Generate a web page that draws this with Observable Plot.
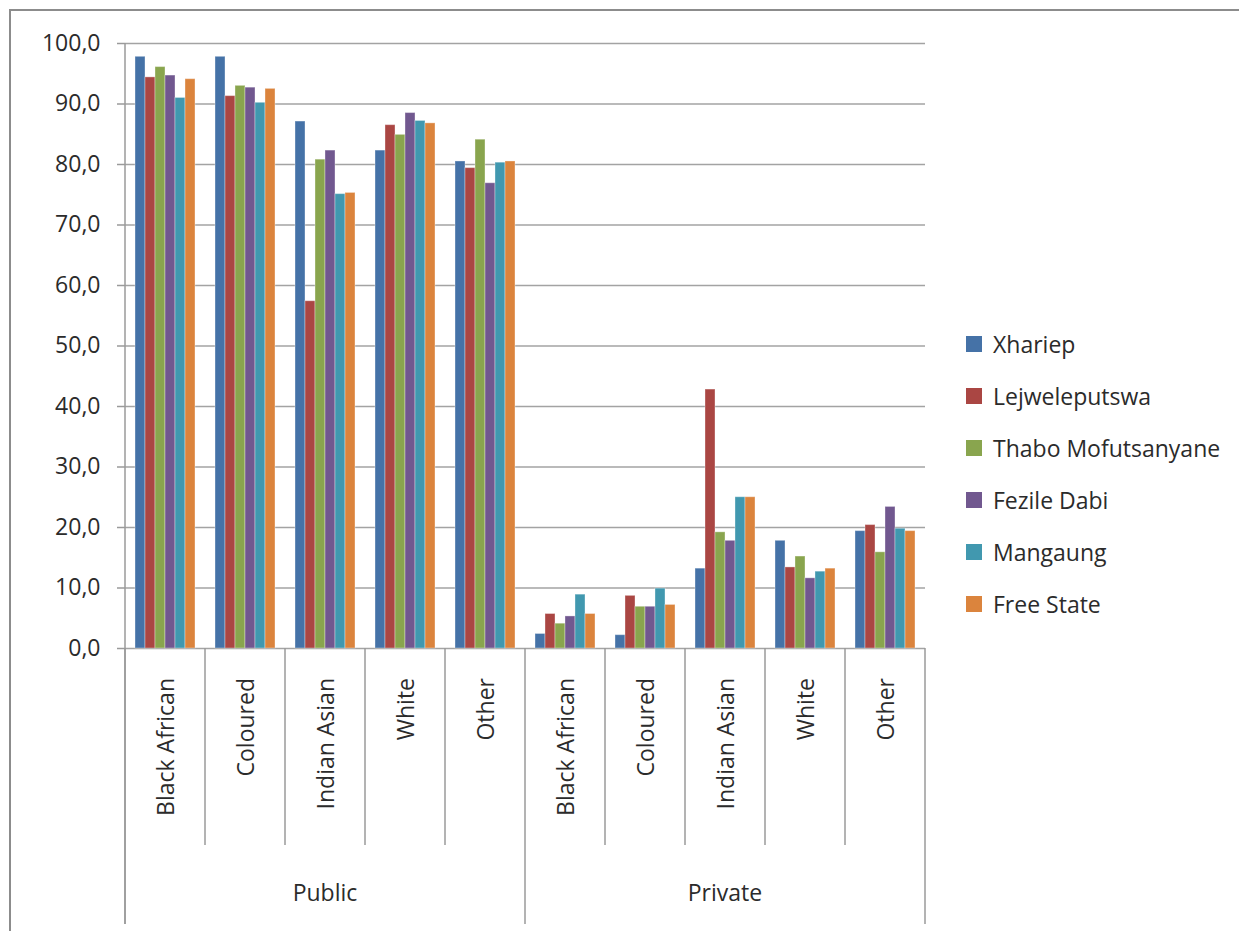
<!DOCTYPE html>
<html><head><meta charset="utf-8">
<script src="https://cdn.jsdelivr.net/npm/d3@7"></script>
<script src="https://cdn.jsdelivr.net/npm/@observablehq/plot@0.6"></script>
<style>
body{margin:0;background:#fff;font-family:"Open Sans",sans-serif;}
#wrap{position:relative;width:1239px;height:931px;overflow:hidden;background:#fff;}
#frame{position:absolute;left:9px;top:9px;width:1300px;height:1000px;border-left:2.5px solid #8c8c8c;border-top:2.5px solid #8c8c8c;}
#wrap svg{position:absolute;left:0;top:0;}
</style></head><body><div id="wrap"><div id="frame"></div></div>
<script>
const groups = ["Public", "Private"];
const categories = ["Black African", "Coloured", "Indian Asian", "White", "Other"];
const series = ["Xhariep", "Lejweleputswa", "Thabo Mofutsanyane", "Fezile Dabi", "Mangaung", "Free State"];
const colors = ["#4572A7", "#AA4643", "#89A54E", "#71588F", "#4198AF", "#DB843D"];
const yTicks = [0, 10, 20, 30, 40, 50, 60, 70, 80, 90, 100];

// order: Public (Black African, Coloured, Indian Asian, White, Other), Private (same)
const xhariep       = [97.8, 97.8, 87.1, 82.3, 80.5, 2.4, 2.2, 13.2, 17.8, 19.4];
const lejweleputswa = [94.4, 91.3, 57.4, 86.5, 79.4, 5.7, 8.7, 42.8, 13.4, 20.4];
const thaboMofutsanyane = [96.1, 93.0, 80.8, 84.9, 84.1, 4.1, 6.9, 19.2, 15.2, 15.9];
const fezileDabi    = [94.7, 92.7, 82.3, 88.5, 76.9, 5.3, 6.9, 17.8, 11.6, 23.4];
const mangaung      = [91.0, 90.2, 75.1, 87.2, 80.3, 8.9, 9.9, 25.0, 12.7, 19.8];
const freeState     = [94.1, 92.5, 75.3, 86.8, 80.5, 5.7, 7.2, 25.0, 13.2, 19.4];

const seriesValues = [xhariep, lejweleputswa, thaboMofutsanyane, fezileDabi, mangaung, freeState];
const keys = [];
groups.forEach(g => categories.forEach(c => keys.push(g + "|" + c)));
const data = [];
series.forEach((s, si) => keys.forEach((k, ki) => data.push({key: k, series: s, value: seriesValues[si][ki]})));

const W = 1239, H = 931;
const mL = 125, mR = 314, mT = 43, mB = 283;
const txt = "#2b2b2b", line = "#9a9a9a";

const plot = Plot.plot({
  width: W, height: H,
  marginLeft: mL, marginRight: mR, marginTop: mT, marginBottom: mB,
  style: {fontFamily: "Open Sans", fontSize: "23px", color: txt, background: "transparent"},
  fx: {domain: keys, padding: 0, axis: null},
  x: {domain: series, paddingInner: 0, paddingOuter: 0.8, axis: null},
  y: {domain: [0, 100]},
  color: {domain: series, range: colors},
  marks: [
    Plot.ruleY(yTicks, {stroke: "#a3a3a3", strokeWidth: 1.5}),
    Plot.barY(data, {fx: "key", x: "series", y: "value", fill: "series", insetLeft: 0, insetRight: 0,
      stroke: "#ffffff", strokeOpacity: 0.35, strokeWidth: 1}),
    Plot.axisY({ticks: yTicks, tickFormat: d => d.toFixed(1).replace(".", ","), tickSize: 8, tickPadding: 17,
      stroke: line, strokeWidth: 1.5, label: null, fill: txt})
  ]
});
document.getElementById("wrap").appendChild(plot);

const svg = d3.select(plot);
const fx = plot.scale("fx");
const bw = fx.bandwidth;
const y0 = mT + (H - mT - mB);   // bottom of plotting frame (value 0)
const g = svg.append("g");
const xs = keys.map(k => fx.apply(k));
const right = xs[xs.length - 1] + bw;

// y axis line
g.append("line").attr("x1", mL).attr("x2", mL).attr("y1", mT).attr("y2", H - 7)
  .attr("stroke", line).attr("stroke-width", 1.5);
// separators
keys.forEach((k, i) => {
  const isGroupStart = i % categories.length === 0;
  g.append("line").attr("x1", xs[i]).attr("x2", xs[i]).attr("y1", y0).attr("y2", isGroupStart ? H - 7 : y0 + 197)
    .attr("stroke", line).attr("stroke-width", 1.5);
});
g.append("line").attr("x1", right).attr("x2", right).attr("y1", y0).attr("y2", H - 7)
  .attr("stroke", line).attr("stroke-width", 1.5);
// category labels
keys.forEach((k, i) => {
  const cx = xs[i] + bw / 2, cy = y0 + 30;
  g.append("text").attr("transform", `translate(${cx},${cy}) rotate(-90)`)
    .attr("text-anchor", "end").attr("dominant-baseline", "central")
    .attr("fill", txt).attr("font-size", 23).text(k.split("|")[1]);
});
// group labels
groups.forEach((grp, gi) => {
  const a = xs[gi * categories.length], b = xs[(gi + 1) * categories.length - 1] + bw;
  g.append("text").attr("x", (a + b) / 2).attr("y", y0 + 244)
    .attr("text-anchor", "middle").attr("dominant-baseline", "central")
    .attr("fill", txt).attr("font-size", 23).text(grp);
});
// legend
const color = plot.scale("color");
const lg = svg.append("g").attr("transform", "translate(966,336)").attr("text-anchor", "start");
series.forEach((s, i) => {
  lg.append("rect").attr("x", 0).attr("y", i * 52).attr("width", 16).attr("height", 16).attr("fill", color.apply(s));
  lg.append("text").attr("x", 27).attr("y", i * 52 + 8).attr("dominant-baseline", "central")
    .attr("text-anchor", "start").attr("fill", txt).attr("font-size", 23).text(s);
});
</script></body></html>
